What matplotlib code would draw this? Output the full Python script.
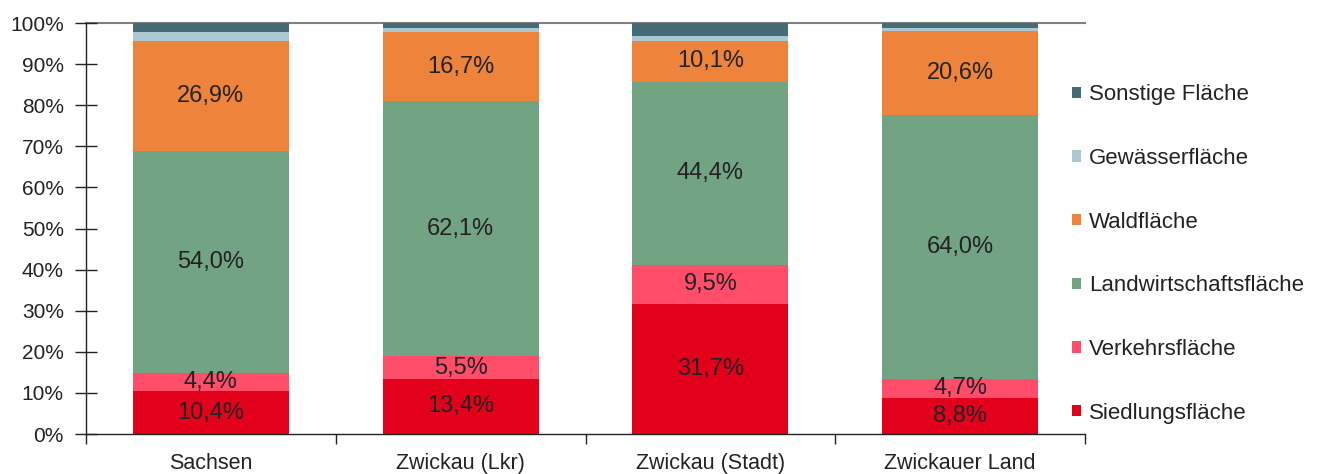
import matplotlib
matplotlib.use("Agg")
import matplotlib.pyplot as plt
from matplotlib.patches import Patch
import numpy as np

plt.rcParams['font.family'] = ['Liberation Sans', 'DejaVu Sans']

categories = ["Sachsen", "Zwickau (Lkr)", "Zwickau (Stadt)", "Zwickauer Land"]
series_names = ["Siedlungsfläche", "Verkehrsfläche", "Landwirtschaftsfläche",
                "Waldfläche", "Gewässerfläche", "Sonstige Fläche"]
siedlung = [10.4, 13.4, 31.7, 8.8]
verkehr = [4.4, 5.5, 9.5, 4.7]
landwirtschaft = [54.0, 62.1, 44.4, 64.0]
wald = [26.9, 16.7, 10.1, 20.6]
gewaesser = [2.0, 1.0, 1.1, 0.7]
sonstige = [2.3, 1.3, 3.2, 1.2]
labeled = [True, True, True, True, False, False]

colors = ["#E2001A", "#FF4D6A", "#72A383", "#EE843B", "#A9C8D2", "#456B76"]

data = [siedlung, verkehr, landwirtschaft, wald, gewaesser, sonstige]

fig = plt.figure(figsize=(13.21, 4.74), dpi=100)
ax = fig.add_axes([86/1321, 1-434/474, (1085-86)/1321, (434-23)/474])

x = np.arange(len(categories))
bottom = np.zeros(len(categories))
for vals, col, name, lab in zip(data, colors, series_names, labeled):
    v = np.array(vals) / 100.0
    ax.bar(x, v, width=0.625, bottom=bottom, color=col, label=name, linewidth=0)
    if lab:
        for xi, b, h, val in zip(x, bottom, v, vals):
            ax.text(xi, b + h / 2, f"{val:.1f}%".replace(".", ","), ha="center", va="center",
                    fontsize=17, color="#222222")
    bottom += v

ax.set_xlim(-0.5, 3.5)
ax.set_ylim(0, 1.0)
ticks = np.linspace(0, 1, 11)
ax.set_yticks(ticks)
ax.set_yticklabels([f"{int(round(t*100))}%" for t in ticks], fontsize=15, color="#222222")
ax.tick_params(axis="y", direction="inout", length=16, width=1, color="#222222", pad=8)
ax.set_xticks(x)
ax.set_xticklabels(categories, fontsize=15.5, color="#222222")
ax.tick_params(axis="x", length=0, pad=14)
# category separator ticks
ax.set_xticks(np.arange(-0.5, 4.0, 1.0), minor=True)
ax.tick_params(axis="x", which="minor", direction="out", length=7, width=1, color="#222222")

ax.axhline(1.0, color="#808080", linewidth=1.5, zorder=0.5, clip_on=False)
for s in ["top", "right"]:
    ax.spines[s].set_visible(False)
for s in ["left", "bottom"]:
    ax.spines[s].set_color("#222222")
    ax.spines[s].set_linewidth(1)

handles = [Patch(facecolor=c, edgecolor="none") for c in colors][::-1]
leg = fig.legend(handles, series_names[::-1], loc="center left",
                 bbox_to_anchor=(1072/1321, 1-254/474), frameon=False, fontsize=16,
                 handlelength=0.42, handleheight=0.42, handletextpad=0.33,
                 labelspacing=1.92, borderaxespad=0, borderpad=0)
for t in leg.get_texts():
    t.set_color("#222222")

fig.savefig("out.png", dpi=100)
